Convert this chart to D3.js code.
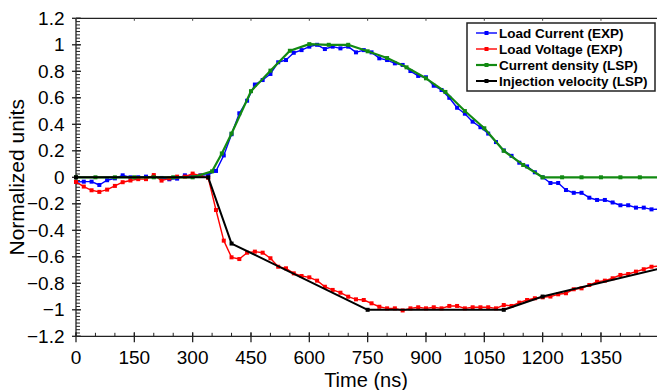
<!DOCTYPE html>
<html>
<head>
<meta charset="utf-8">
<script src="https://cdn.jsdelivr.net/npm/d3@7"></script>
<style>
  html, body { margin: 0; padding: 0; background: #fff; }
  svg { display: block; }
  text { font-family: "Liberation Sans", Arial, sans-serif; fill: #000; }
</style>
</head>
<body>
<svg id="chart" width="657" height="390"></svg>
<script>
// Experimental traces, sampled every 20 ns
const timeExp = d3.range(0, 1501, 20);
const loadCurrent = [
  -0.035, -0.033, -0.033, -0.058, -0.022, -0.008, 0.015, 0.0, 0.0, 0.005,
  0.005, -0.005, -0.015, -0.01, 0.015, 0.008, 0.015, 0.02, 0.048, 0.165,
  0.325, 0.483, 0.578, 0.70, 0.734, 0.78, 0.868, 0.885, 0.94, 0.96,
  0.986, 1.0, 0.968, 0.986, 0.973, 0.986, 0.943, 0.96, 0.943, 0.898,
  0.885, 0.86, 0.848, 0.802, 0.765, 0.755, 0.691, 0.659, 0.60, 0.525,
  0.48, 0.42, 0.378, 0.33, 0.266, 0.203, 0.162, 0.11, 0.082, 0.038,
  0.0, -0.043, -0.043, -0.096, -0.117, -0.117, -0.154, -0.171, -0.171, -0.19,
  -0.211, -0.211, -0.229, -0.229, -0.242, -0.24
];
const loadVoltage = [
  -0.035, -0.07, -0.098, -0.11, -0.093, -0.065, -0.037, -0.024, -0.014, -0.014,
  0.017, -0.025, -0.008, 0.005, 0.005, 0.028, 0.012, -0.004, -0.247, -0.478,
  -0.604, -0.617, -0.569, -0.561, -0.569, -0.611, -0.675, -0.687, -0.725, -0.745,
  -0.755, -0.78, -0.826, -0.85, -0.871, -0.901, -0.921, -0.926, -0.951, -0.977,
  -0.989, -0.989, -1.005, -0.989, -0.981, -0.989, -0.981, -0.989, -0.971, -0.971,
  -0.989, -0.981, -0.981, -0.981, -0.989, -0.964, -0.971, -0.946, -0.926, -0.913,
  -0.906, -0.9, -0.883, -0.875, -0.845, -0.838, -0.813, -0.788, -0.78, -0.762,
  -0.737, -0.73, -0.712, -0.694, -0.675, -0.67
];

// LSP simulation traces
const timeDensity = [0, 50, 100, 150, 200, 250, 300, 350, 375, 400, 450, 500, 550, 600, 650, 700,
  750, 800, 850, 900, 950, 1000, 1050, 1100, 1150, 1200, 1250, 1300, 1350, 1400, 1450, 1500];
const currentDensity = [0, 0, 0, 0, 0, 0, 0, 0.045, 0.18, 0.33, 0.65, 0.805, 0.955, 1.005, 1.0, 1.0,
  0.951, 0.90, 0.83, 0.747, 0.644, 0.50, 0.37, 0.20, 0.093, 0, 0, 0, 0, 0, 0, 0];
const timeVelocity = [0, 340, 400, 750, 1100, 1200, 1500];
const injectionVelocity = [0, 0, -0.5, -1.0, -1.0, -0.9, -0.69];

// Axis ticks
const xTicks = [0, 150, 300, 450, 600, 750, 900, 1050, 1200, 1350];
const yTicks = [1.2, 1, 0.8, 0.6, 0.4, 0.2, 0, -0.2, -0.4, -0.6, -0.8, -1, -1.2];

const seriesNames = ["Load Current (EXP)", "Load Voltage (EXP)", "Current density (LSP)", "Injection velocity (LSP)"];

const series = [
  { name: seriesNames[0], t: timeExp, v: loadCurrent, color: "#0000ff", width: 1.4, size: 4 },
  { name: seriesNames[1], t: timeExp, v: loadVoltage, color: "#ff0000", width: 1.4, size: 4 },
  { name: seriesNames[2], t: timeDensity, v: currentDensity, color: "#128a12", width: 2.2, size: 4 },
  { name: seriesNames[3], t: timeVelocity, v: injectionVelocity, color: "#000000", width: 2.0, size: 4 }
];

const svg = d3.select("#chart");
const plotLeft = 76, plotTop = 18.3, plotBottom = 336.3;
const x = d3.scaleLinear().domain([0, 1500]).range([plotLeft, plotLeft + 583.3]);
const y = d3.scaleLinear().domain([-1.2, 1.2]).range([plotBottom, plotTop]);

// Frame: top border
svg.append("line").attr("x1", plotLeft).attr("x2", 657).attr("y1", plotTop).attr("y2", plotTop)
  .attr("stroke", "#222").attr("stroke-width", 1.3);

// Y axis with minor ticks every 0.025
const yMinor = d3.range(-1.2, 1.2001, 0.025).map(d => +d.toFixed(3));
const gy = svg.append("g");
gy.selectAll("line.minor").data(yMinor).join("line").attr("class", "minor")
  .attr("x1", plotLeft).attr("x2", plotLeft + 4)
  .attr("y1", d => y(d)).attr("y2", d => y(d))
  .attr("stroke", "#222").attr("stroke-width", 1);
gy.selectAll("line.major").data(yTicks).join("line").attr("class", "major")
  .attr("x1", plotLeft - 4).attr("x2", plotLeft + 5)
  .attr("y1", d => y(d)).attr("y2", d => y(d))
  .attr("stroke", "#222").attr("stroke-width", 1.3);
gy.selectAll("text").data(yTicks).join("text")
  .attr("x", 64.5).attr("y", d => y(d))
  .attr("text-anchor", "end").attr("dominant-baseline", "central")
  .attr("font-size", 19)
  .text(d => d3.format("")(d));
svg.append("line").attr("x1", plotLeft).attr("x2", plotLeft).attr("y1", plotTop).attr("y2", plotBottom)
  .attr("stroke", "#222").attr("stroke-width", 1.3);

// X axis with minor ticks every 50 ns
const xMinor = d3.range(0, 1501, 50);
const gx = svg.append("g");
gx.selectAll("line.minor").data(xMinor).join("line").attr("class", "minor")
  .attr("x1", d => x(d)).attr("x2", d => x(d))
  .attr("y1", plotBottom).attr("y2", plotBottom - 3.5)
  .attr("stroke", "#222").attr("stroke-width", 1);
gx.selectAll("line.major").data(xTicks).join("line").attr("class", "major")
  .attr("x1", d => x(d)).attr("x2", d => x(d))
  .attr("y1", plotBottom - 4).attr("y2", plotBottom + 6)
  .attr("stroke", "#222").attr("stroke-width", 1.3);
gx.selectAll("line.topTick").data(xTicks).join("line").attr("class", "topTick")
  .attr("x1", d => x(d)).attr("x2", d => x(d))
  .attr("y1", plotTop).attr("y2", plotTop + 2.5)
  .attr("stroke", "#444").attr("stroke-width", 1);
gx.selectAll("text").data(xTicks).join("text")
  .attr("x", d => x(d)).attr("y", 364)
  .attr("text-anchor", "middle")
  .attr("font-size", 19)
  .text(d => d);
svg.append("line").attr("x1", plotLeft).attr("x2", 657).attr("y1", plotBottom).attr("y2", plotBottom)
  .attr("stroke", "#222").attr("stroke-width", 1.3);

// Axis titles
svg.append("text").attr("x", 366).attr("y", 386.5)
  .attr("text-anchor", "middle").attr("font-size", 20)
  .text("Time (ns)");
svg.append("text")
  .attr("transform", `translate(24,${(plotTop + plotBottom) / 2}) rotate(-90)`)
  .attr("text-anchor", "middle").attr("font-size", 21)
  .text("Normalized units");

// Data traces
const line = d3.line().x(d => x(d[0])).y(d => y(d[1]));
const plot = svg.append("g");
series.forEach(s => {
  const pts = s.t.map((t, i) => [t, s.v[i]]);
  const g = plot.append("g");
  g.append("path").datum(pts)
    .attr("d", line)
    .attr("fill", "none")
    .attr("stroke", s.color)
    .attr("stroke-width", s.width)
    .attr("stroke-linejoin", "round");
  g.selectAll("rect").data(pts).join("rect")
    .attr("x", d => x(d[0]) - s.size / 2)
    .attr("y", d => y(d[1]) - s.size / 2)
    .attr("width", s.size).attr("height", s.size)
    .attr("fill", s.color);
});

// Legend
const lg = svg.append("g").attr("transform", "translate(467,23)");
lg.append("rect").attr("width", 188).attr("height", 68)
  .attr("fill", "#fff").attr("stroke", "#222").attr("stroke-width", 1.5);
series.forEach((s, i) => {
  const yy = 10 + i * 16;
  lg.append("line").attr("x1", 9).attr("x2", 30).attr("y1", yy).attr("y2", yy)
    .attr("stroke", s.color).attr("stroke-width", s.width);
  lg.append("rect").attr("x", 19.5 - s.size / 2).attr("y", yy - s.size / 2)
    .attr("width", s.size).attr("height", s.size).attr("fill", s.color);
  lg.append("text").attr("x", 32).attr("y", yy)
    .attr("dominant-baseline", "central")
    .attr("font-size", 13.5).attr("font-weight", "bold")
    .text(s.name);
});
</script>
</body>
</html>
